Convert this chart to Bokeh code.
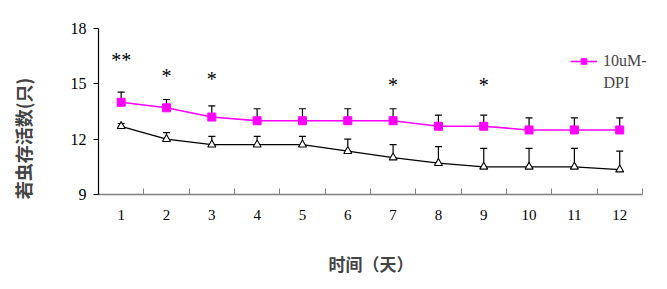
from bokeh.plotting import figure
from bokeh.models import (ColumnDataSource, Whisker, TeeHead, FixedTicker, Legend,
                          LegendItem, Label)
from bokeh.core.properties import value
from bokeh.embed import file_html
from bokeh.resources import INLINE

days = [1, 2, 3, 4, 5, 6, 7, 8, 9, 10, 11, 12]
dpi_mean = [14.0, 13.7, 13.2, 13.0, 13.0, 13.0, 13.0, 12.7, 12.7, 12.5, 12.5, 12.5]
dpi_err = [0.55, 0.45, 0.6, 0.65, 0.65, 0.65, 0.65, 0.6, 0.6, 0.65, 0.65, 0.65]
ctrl_mean = [12.7, 12.0, 11.7, 11.7, 11.7, 11.35, 11.0, 10.7, 10.5, 10.5, 10.5, 10.35]
ctrl_err = [0.15, 0.35, 0.45, 0.45, 0.45, 0.65, 0.7, 0.9, 1.0, 1.0, 1.0, 1.0]
sig_days = [1, 2, 3, 7, 9]
sig_y = [16.45, 15.6, 15.4, 15.08, 15.08]
sig_text = ["**", "*", "*", "*", "*"]
y_ticks = [9, 12, 15, 18]

SERIF = "Liberation Serif"
CJK = "Noto Sans CJK SC"

# the frame reaches a little past the last category so the legend text is not clipped;
# the x axis itself is bounded to the 12 categories
p = figure(width=667, height=289, output_backend="svg", toolbar_location=None,
           x_range=(0.5, 12.9), y_range=(9, 18),
           min_border_left=98, min_border_right=7, min_border_top=28, min_border_bottom=95)
p.outline_line_color = None
p.xgrid.visible = False
p.ygrid.visible = False
p.background_fill_color = "white"
p.border_fill_color = "white"

# x axis
xa = p.xaxis[0]
xa.bounds = (0.5, 12.5)
xa.ticker = FixedTicker(ticks=days, minor_ticks=[d - 0.5 for d in days] + [12.5])
xa.major_tick_in = 0
xa.major_tick_out = 0
xa.minor_tick_in = 6
xa.minor_tick_out = 0
xa.minor_tick_line_color = "#808080"
xa.axis_line_color = "#808080"
xa.axis_line_width = 1.5
xa.major_label_text_font = SERIF
xa.major_label_text_font_size = "15px"
xa.major_label_text_color = "black"
xa.major_label_standoff = 15
xa.axis_label = "时间（天）\u3000\u2002"
xa.axis_label_text_font = CJK
xa.axis_label_text_font_style = "bold"
xa.axis_label_text_font_size = "17px"
xa.axis_label_standoff = 28

# y axis
ya = p.yaxis[0]
ya.ticker = FixedTicker(ticks=y_ticks, minor_ticks=[])
ya.major_tick_in = 0
ya.major_tick_out = 5
ya.major_tick_line_color = "black"
ya.axis_line_color = "black"
ya.axis_line_width = 1.2
ya.major_label_text_font = SERIF
ya.major_label_text_font_size = "16px"
ya.major_label_text_color = "black"
ya.major_label_standoff = 7
ya.axis_label = "若虫存活数(只)\u3000\u3000\u3000"
ya.axis_label_text_font = CJK
ya.axis_label_text_font_style = "bold"
ya.axis_label_text_font_size = "18px"
ya.axis_label_standoff = 32

src_d = ColumnDataSource(dict(x=days, y=dpi_mean, up=[m + e for m, e in zip(dpi_mean, dpi_err)]))
src_c = ColumnDataSource(dict(x=days, y=ctrl_mean, up=[m + e for m, e in zip(ctrl_mean, ctrl_err)]))

for src in (src_d, src_c):
    w = Whisker(source=src, base="x", lower="y", upper="up", line_color="black", line_width=1.2,
                lower_head=None, upper_head=TeeHead(size=7, line_color="black", line_width=1.2))
    p.add_layout(w)

lc = p.line("x", "y", source=src_c, line_color="black", line_width=1.3)
sc = p.scatter("x", "y", source=src_c, marker="triangle", size=8, fill_color="white",
               line_color="black", line_width=1.1)
ld = p.line("x", "y", source=src_d, line_color="#ff00ff", line_width=1.6)
sd = p.scatter("x", "y", source=src_d, marker="square", size=8, fill_color="#ff00ff",
               line_color="#ff00ff")

p.text(x=sig_days, y=sig_y, text=sig_text, text_font=value(SERIF), text_font_size="20px",
       text_align="center", text_baseline="middle", text_color="black", y_offset=3)

legend = Legend(items=[LegendItem(label="10uM-", renderers=[ld, sd])],
                location=(472, 124), orientation="vertical",
                padding=0, margin=0, spacing=0, glyph_width=27, glyph_height=14,
                label_height=14, label_standoff=6,
                label_text_font=SERIF, label_text_font_size="16px",
                border_line_alpha=0, background_fill_alpha=0)
p.add_layout(legend, "center")
p.add_layout(Label(x=505, y=112, x_units="screen", y_units="screen", text="DPI",
                   text_font=SERIF, text_font_size="16px",
                   text_baseline="middle", text_align="left"))

open("out.html", "w").write(file_html(p, INLINE))
